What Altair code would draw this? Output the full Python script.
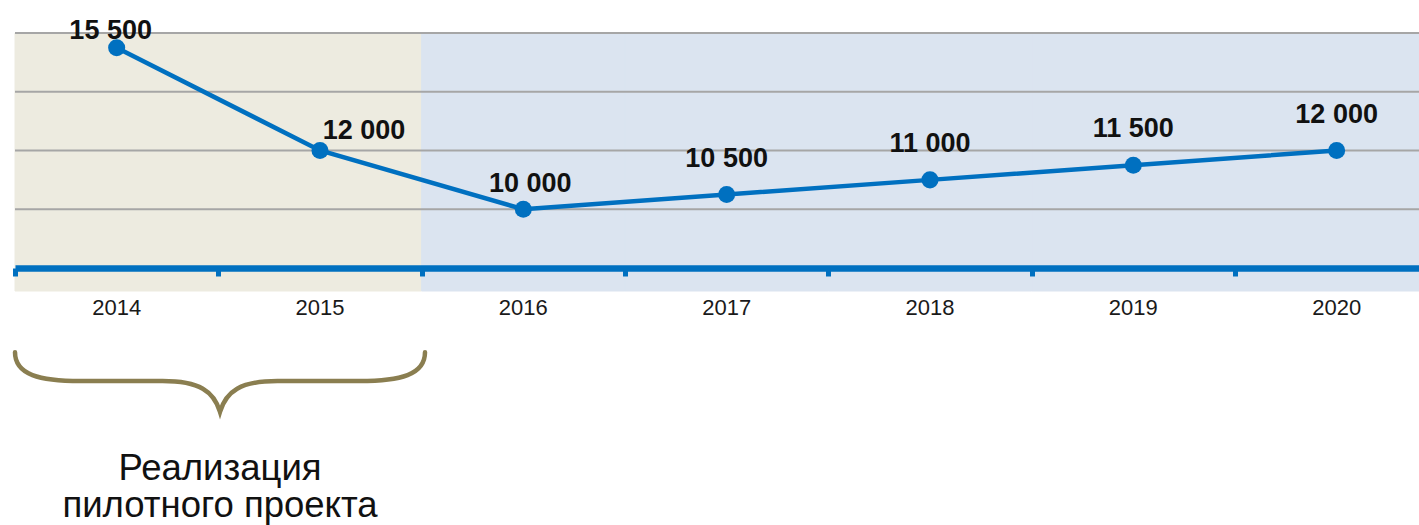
import altair as alt
import pandas as pd

years = ["2014", "2015", "2016", "2017", "2018", "2019", "2020"]
values = [15500, 12000, 10000, 10500, 11000, 11500, 12000]
labels = ["15 500", "12 000", "10 000", "10 500", "11 000", "11 500", "12 000"]
periods = ["pilot", "pilot", "plan", "plan", "plan", "plan", "plan"]
grid_values = [10000, 12000, 14000, 16000]
y_domain = [8000, 16000]
annotation = "Реализация\nпилотного проекта"

df = pd.DataFrame({"year": years, "value": values, "label": labels, "period": periods})
grid_df = pd.DataFrame({"g": grid_values})
ann_df = pd.DataFrame({"text": [annotation]})

BLUE = "#0070C0"
BAND = 203.33
BOLD = "Liberation Sans, Arial, sans-serif"
SANS = "Liberation Sans, Arial, sans-serif"

x_scale = alt.Scale(type="band", domain=years, range=[0, BAND * 7], paddingInner=0, paddingOuter=0)
y_scale = alt.Scale(domain=y_domain, nice=False, zero=False)

x_axis = alt.Axis(
    title=None, labels=False, grid=False,
    domainColor=BLUE, domainWidth=6.5,
    ticks=True, tickColor=BLUE, tickWidth=5, tickSize=8, tickBand="extent",
    zindex=1,
)

X = alt.X("year:O", scale=x_scale, axis=x_axis)
Y = alt.Y("value:Q", scale=y_scale, axis=None)

period_scale = alt.Scale(domain=["pilot", "plan"], range=["#EDEBE0", "#DBE4F0"])

bg = alt.Chart(df).mark_rect(strokeWidth=1).encode(
    x=X,
    y=alt.value(0),
    y2=alt.value(258),
    color=alt.Color("period:N", scale=period_scale, legend=None),
    stroke=alt.Stroke("period:N", scale=period_scale, legend=None),
)

grid = alt.Chart(grid_df).mark_rule(color="#A6A6A6", strokeWidth=2).encode(
    y=alt.Y("g:Q", scale=y_scale, axis=None),
    x=alt.value(0),
    x2=alt.value(1404),
)

line = alt.Chart(df).mark_line(color=BLUE, strokeWidth=4.5).encode(x=X, y=Y)
pts = alt.Chart(df).mark_circle(size=290, color=BLUE, opacity=1).encode(x=X, y=Y)


def vlabel(sel, dx, dy):
    return alt.Chart(df).transform_filter(
        alt.FieldOneOfPredicate(field="year", oneOf=sel)
    ).mark_text(
        dx=dx, dy=dy, font=BOLD, fontWeight="bold", fontSize=27,
        color="#111111", align="center", baseline="alphabetic",
    ).encode(x=X, y=Y, text="label:N")


lab1 = vlabel(["2014"], -6, -9)
lab2 = vlabel(["2015"], 44, -12)
lab3 = vlabel(["2016"], 7, -17)
lab4 = vlabel(["2017", "2018", "2019", "2020"], 0, -28)

year_text = alt.Chart(df).mark_text(
    font=SANS, fontSize=22, color="#1a1a1a", align="center", baseline="alphabetic"
).encode(x=X, y=alt.value(282), text="year:O")

BRACE = ("M -1 -0.14 C -1 -0.03 -0.88 0 -0.68 0 L -0.28 0 "
         "C -0.1 0 -0.03 0.05 0 0.15 C 0.03 0.05 0.1 0 0.28 0 "
         "L 0.68 0 C 0.88 0 1 -0.03 1 -0.14")

brace = alt.Chart(ann_df).mark_point(
    shape=BRACE, size=410 * 410, filled=False, color="#8A7E50",
    strokeWidth=4.5, opacity=1, strokeCap="round",
).encode(x=alt.value(205), y=alt.value(348))

ann = alt.Chart(ann_df).mark_text(
    font=SANS, fontSize=36.5, lineBreak="\n", lineHeight=37,
    align="center", baseline="alphabetic", color="#111111",
).encode(x=alt.value(205), y=alt.value(447), text="text:N")

chart = alt.layer(
    bg, grid, line, pts, lab1, lab2, lab3, lab4, year_text, brace, ann
).properties(
    width=1404, height=235,
    autosize=alt.AutoSizeParams(type="none"),
    padding={"left": 15, "top": 33, "right": 0, "bottom": 257},
).configure_view(strokeWidth=0)

chart.save("out.html", embed_options={"renderer": "svg", "actions": False})
